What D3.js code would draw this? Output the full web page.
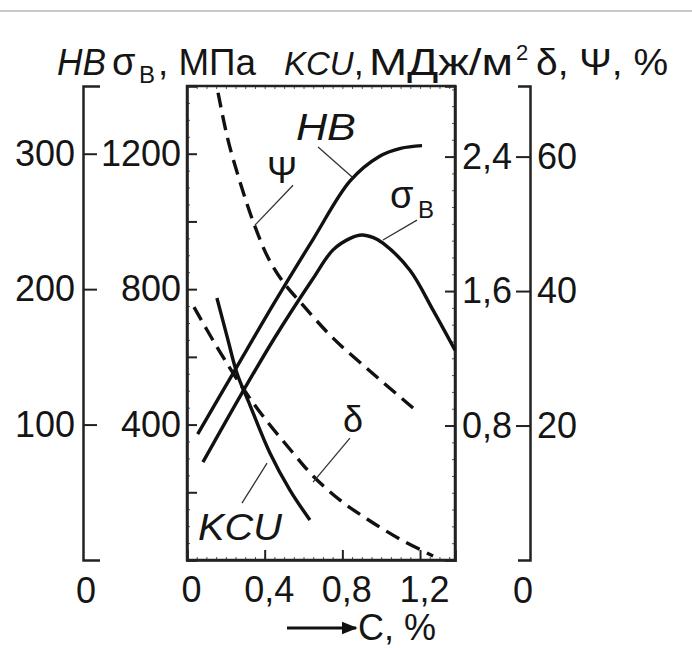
<!DOCTYPE html>
<html><head><meta charset="utf-8">
<script src="https://cdn.jsdelivr.net/npm/d3@7/dist/d3.min.js"></script>
<style>
body{margin:0;background:#fff;}
text{font-family:"Liberation Sans",Arial,sans-serif;fill:#151515;}
</style></head>
<body><svg id="c" width="692" height="648"></svg>
<script>
// ---- data (carbon content, %) ----
const hbCarbon   = [0.055, 0.25, 0.45, 0.65, 0.84, 0.99, 1.10, 1.21];
const hbValues   = [93, 141, 190, 237, 280, 298, 304, 306];
const sigCarbon  = [0.082, 0.283, 0.45, 0.644, 0.752, 0.84, 0.90, 0.96, 1.009, 1.148, 1.267, 1.38];
const sigValues  = [289, 493, 655, 827, 916, 950, 960, 952, 936, 856, 738, 620];
const psiCarbon  = [0.160, 0.211, 0.283, 0.350, 0.417, 0.494, 0.597, 0.752, 0.958, 1.164];
const psiValues  = [69.5, 62.5, 55.3, 49.6, 45.0, 41.4, 37.9, 33.0, 27.7, 22.6];
const delCarbon  = [0.036, 0.160, 0.273, 0.386, 0.541, 0.649, 0.788, 0.927, 1.097, 1.267];
const delValues  = [37.6, 31.4, 26.2, 21.6, 16.1, 12.5, 8.9, 6.1, 3.1, 0.6];
const kcuCarbon  = [0.154, 0.211, 0.257, 0.324, 0.427, 0.530, 0.633];
const kcuValues  = [1.559, 1.309, 1.112, 0.922, 0.637, 0.416, 0.238];

const hbTicks    = [100, 200, 300];
const sigTicks   = [400, 800, 1200];
const kcuTicks   = [0.8, 1.6, 2.4];
const pctTicks   = [20, 40, 60];
const xTicks     = [0, 0.4, 0.8, 1.2];

const svg = d3.select("#c");
const L = 187, R = 455, T = 86, B = 560;
const x = d3.scaleLinear().domain([0, 1.38]).range([L, R]);
const yHB = d3.scaleLinear().domain([0, 350]).range([B, T]);
const ySig = d3.scaleLinear().domain([0, 1400]).range([B, T]);
const yKCU = d3.scaleLinear().domain([0, 2.82]).range([B, T]);
const yPct = d3.scaleLinear().domain([0, 70.5]).range([B, T]);
const comma = v => String(v).replace(".", ",");
const FS = 36;

// top grey rule
svg.append("line").attr("x1",0).attr("x2",692).attr("y1",11).attr("y2",11)
  .attr("stroke","#c9c9c9").attr("stroke-width",2);

function styleAxis(g, w){
  g.selectAll("path.domain").attr("stroke","#222").attr("stroke-width",w);
  g.selectAll(".tick line").attr("stroke","#222").attr("stroke-width",2);
  g.selectAll(".tick text").attr("font-size",FS).attr("fill","#151515")
    .attr("font-family",'"Liberation Sans",Arial,sans-serif');
}

// HB bracket axis
const gHB = svg.append("g").attr("transform","translate(83,0)")
  .call(d3.axisLeft(yHB).tickValues(hbTicks).tickSizeInner(-14).tickSizeOuter(-17).tickPadding(8));
styleAxis(gHB, 2.5);

// percent bracket axis
const gPct = svg.append("g").attr("transform","translate(530,0)")
  .call(d3.axisRight(yPct).tickValues(pctTicks).tickSizeInner(-14).tickSizeOuter(-12).tickPadding(7));
styleAxis(gPct, 2.5);

// minor ticks on box
const gMinL = svg.append("g").attr("transform",`translate(${L},0)`)
  .call(d3.axisLeft(ySig).tickValues(d3.range(0,1401,50)).tickSize(-3).tickFormat(""));
const gMinR = svg.append("g").attr("transform",`translate(${R},0)`)
  .call(d3.axisRight(yKCU).tickValues(d3.range(0,2.81,0.1)).tickSize(-3).tickFormat(""));
const gMinB = svg.append("g").attr("transform",`translate(0,${B})`)
  .call(d3.axisBottom(x).tickValues(d3.range(0,1.38,0.05)).tickSize(-3).tickFormat(""));
const gMinT = svg.append("g").attr("transform",`translate(0,${T})`)
  .call(d3.axisTop(x).tickValues(d3.range(0,1.38,0.05)).tickSize(-3).tickFormat(""));
[gMinL,gMinR,gMinB,gMinT].forEach(g=>{g.select("path.domain").remove();
  g.selectAll(".tick line").attr("stroke","#555").attr("stroke-width",1);});

// major box axes
const gSig = svg.append("g").attr("transform",`translate(${L},0)`)
  .call(d3.axisLeft(ySig).tickValues(sigTicks.concat([200,600,1000])).tickSize(-10).tickPadding(6)
     .tickFormat(d => sigTicks.includes(d) ? d : ""));
styleAxis(gSig, 2.5);
const gKCU = svg.append("g").attr("transform",`translate(${R},0)`)
  .call(d3.axisRight(yKCU).tickValues(kcuTicks).tickSize(-10).tickPadding(7).tickFormat(comma));
styleAxis(gKCU, 2.5);
const gX = svg.append("g").attr("transform",`translate(0,${B})`)
  .call(d3.axisBottom(x).tickValues(xTicks).tickSize(-10).tickPadding(16).tickFormat(comma));
styleAxis(gX, 2.5);
gX.selectAll(".tick text").attr("dx", 4);

// box
svg.append("rect").attr("x",L).attr("y",T).attr("width",R-L).attr("height",B-T)
  .attr("fill","none").attr("stroke","#222").attr("stroke-width",2.5);

// zero labels under brackets
svg.append("text").attr("x",86).attr("y",603).attr("text-anchor","middle").attr("font-size",FS).text("0");
svg.append("text").attr("x",523).attr("y",603).attr("text-anchor","middle").attr("font-size",FS).text("0");

// curves
const line = (ys) => d3.line().x(d=>x(d[0])).y(d=>ys(d[1])).curve(d3.curveCatmullRom.alpha(0.5));
function curve(cs, vs, ys, dashed){
  svg.append("path").datum(d3.zip(cs, vs)).attr("d", line(ys))
    .attr("fill","none").attr("stroke","#111").attr("stroke-width",3.4)
    .attr("stroke-dasharray", dashed ? "15,8" : null);
}
curve(hbCarbon, hbValues, yHB, false);
curve(sigCarbon, sigValues, ySig, false);
curve(kcuCarbon, kcuValues, yKCU, false);
curve(psiCarbon, psiValues, yPct, true);
curve(delCarbon, delValues, yPct, true);

// leaders (carbon, sigma-scale value)
const leaders = [
  [[0.675,1220],[0.850,1131]],
  [[0.546,1107],[0.350,989]],
  [[1.184,1004],[1.009,945]],
  [[0.839,360],[0.649,230]],
  [[0.283,168],[0.412,286]]
];
leaders.forEach(l => svg.append("line")
  .attr("x1",x(l[0][0])).attr("y1",ySig(l[0][1])).attr("x2",x(l[1][0])).attr("y2",ySig(l[1][1]))
  .attr("stroke","#333").attr("stroke-width",1.3));

// curve labels
function lab(c, s, txt, opts={}){
  const e = svg.append("text").attr("x",x(c)).attr("y",ySig(s)).attr("font-size",opts.fs||FS)
    .attr("font-style",opts.it?"italic":null).text(txt);
  if (opts.w) e.attr("textLength",opts.w).attr("lengthAdjust","spacingAndGlyphs");
  return e;
}
lab(0.561,1240,"HB",{it:true, w:60});
lab(0.412,1113,"Ψ");
lab(1.045,1040,"σ",{fs:38});
lab(1.190,1010,"В",{fs:24});
lab(0.803,378,"δ");
lab(0.057,59,"KCU",{it:true, w:84});

// title
function t(xp, yp, txt, fs, it, w){
  const e = svg.append("text").attr("x",xp).attr("y",yp).attr("font-size",fs)
    .attr("font-style",it?"italic":null).text(txt);
  if (w) e.attr("textLength",w).attr("lengthAdjust","spacingAndGlyphs");
  return e;
}
t(57,75,"HB",FS,true,49);
t(112,75,"σ",38);
t(139,83,"В",24);
t(158,75,", МПа",FS,false,98);
const kt = svg.append("text").attr("x",284).attr("y",75).attr("font-size",33);
kt.append("tspan").attr("font-style","italic").text("KCU");
kt.append("tspan").attr("font-size",FS).text(",");
t(369,75,"МДж/м",FS,false,144);
t(516,60,"2",22);
t(536,75,"δ, Ψ, %",FS,false,132);

// x-axis title with arrow
svg.append("defs").append("marker").attr("id","ar").attr("viewBox","0 0 10 10")
  .attr("refX",9).attr("refY",5).attr("markerWidth",5).attr("markerHeight",5).attr("orient","auto")
  .append("path").attr("d","M0,1 L10,5 L0,9 Z").attr("fill","#111");
svg.append("line").attr("x1",287).attr("x2",356).attr("y1",628).attr("y2",628)
  .attr("stroke","#111").attr("stroke-width",3.2).attr("marker-end","url(#ar)");
t(358,640,"C, %",FS);
</script></body></html>
